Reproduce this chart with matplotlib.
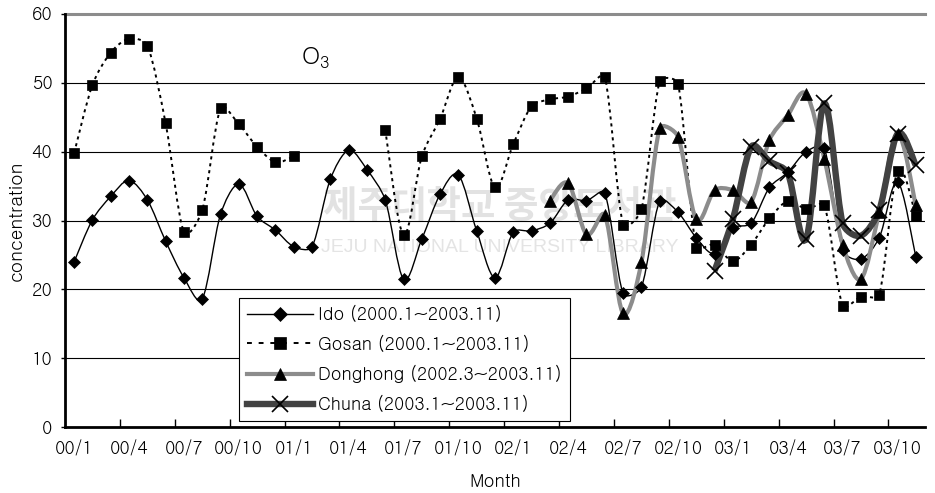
import numpy as np
import matplotlib
matplotlib.use("Agg")
import matplotlib.pyplot as plt
from matplotlib.path import Path
from matplotlib.patches import PathPatch
from matplotlib.lines import Line2D
from matplotlib import font_manager

nan = np.nan

# ---------------- data ----------------
tick_labels = ["00/1", "00/4", "00/7", "00/10", "01/1", "01/4", "01/7", "01/10",
               "02/1", "02/4", "02/7", "02/10", "03/1", "03/4", "03/7", "03/10"]

ido = [24.0, 30.1, 33.5, 35.8, 33.0, 27.0, 21.7, 18.6, 30.9, 35.3, 30.6, 28.6,
       26.2, 26.2, 36.0, 40.2, 37.4, 33.0, 21.5, 27.3, 33.8, 36.6, 28.5, 21.7,
       28.3, 28.5, 29.6, 33.0, 32.9, 34.0, 19.4, 20.3, 32.8, 31.2, 27.5, 25.2,
       28.9, 29.6, 34.8, 37.0, 40.0, 40.5, 25.7, 24.4, 27.5, 35.6, 24.7]

gosan = [39.8, 49.7, 54.4, 56.4, 55.4, 44.1, 28.3, 31.5, 46.3, 44.0, 40.7, 38.5,
         39.3, nan, nan, nan, nan, 43.2, 27.9, 39.3, 44.8, 50.8, 44.8, 34.8,
         41.1, 46.6, 47.6, 48.0, 49.2, 50.9, 29.4, 31.6, 50.2, 49.9, 26.0, 26.5,
         24.1, 26.5, 30.3, 32.8, 31.7, 32.2, 17.6, 18.9, 19.2, 37.2, 30.7]

donghong = [nan] * 26 + [32.9, 35.4, 28.0, 30.8, 16.5, 23.9, 43.4, 42.2, 30.2,
                         34.4, 34.4, 32.7, 41.7, 45.3, 48.4, 38.9, 26.5, 21.5,
                         31.2, 42.6, 32.2]

chuna = [nan] * 35 + [22.7, 30.2, 40.7, 38.6, 36.9, 27.3, 47.0, 29.6, 27.8,
                      31.5, 42.6, 38.0]

series_names = ["Ido (2000.1~2003.11)", "Gosan (2000.1~2003.11)",
                "Donghong (2002.3~2003.11)", "Chuna (2003.1~2003.11)"]

# ---------------- fonts ----------------
avail = {f.name for f in font_manager.fontManager.ttflist}
main_font = "Gulim" if "Gulim" in avail else "Liberation Sans"
FAM = [main_font, "DejaVu Sans"]
plt.rcParams['font.family'] = FAM
plt.rcParams['mathtext.fontset'] = 'custom'
plt.rcParams['mathtext.rm'] = main_font


W, H = 935, 493
fig = plt.figure(figsize=(W / 100, H / 100), dpi=100)
ax = fig.add_axes([65 / W, 1 - 427 / H, 860 / W, 413 / H])
ax.set_xlim(-0.5, 46.5)
ax.set_ylim(0, 60)


def smooth_path(ys):
    """Excel-like smoothed line: Bezier segments built in display space."""
    ys = np.asarray(ys, float)
    xs = np.arange(len(ys), dtype=float)
    ok = ~np.isnan(ys)
    to_disp = ax.transData
    to_data = ax.transData.inverted()
    verts, codes = [], []
    i, n = 0, len(ys)
    while i < n:
        if not ok[i]:
            i += 1
            continue
        j = i
        while j + 1 < n and ok[j + 1]:
            j += 1
        P = to_disp.transform(np.column_stack([xs[i:j + 1], ys[i:j + 1]]))
        m = len(P)
        verts.append(tuple(P[0]))
        codes.append(Path.MOVETO)
        for k in range(m - 1):
            a = max(k - 1, 0)
            d = min(k + 2, m - 1)
            seg = np.linalg.norm(P[k + 1] - P[k])
            ch1 = (P[k + 1] - P[a]) / 6.0
            n1 = np.linalg.norm(ch1)
            if n1 > seg / 3.0 and n1 > 0:
                ch1 = ch1 * (seg / 3.0) / n1
            ch2 = (P[d] - P[k]) / 6.0
            n2 = np.linalg.norm(ch2)
            if n2 > seg / 3.0 and n2 > 0:
                ch2 = ch2 * (seg / 3.0) / n2
            c1 = P[k] + ch1
            c2 = P[k + 1] - ch2
            verts += [tuple(c1), tuple(c2), tuple(P[k + 1])]
            codes += [Path.CURVE4] * 3
        i = j + 1
    verts = to_data.transform(np.array(verts))
    return Path(verts, codes)


# watermark (faint)
ax.text(0.505, 0.533, "제주대학교 중앙도서관", transform=ax.transAxes, ha="center",
        va="center", fontsize=27, fontweight="bold", color="#e2e2e2",
        family=["Noto Sans CJK KR", "DejaVu Sans"], zorder=0)
ax.text(0.505, 0.435, "JEJU NATIONAL UNIVERSITY LIBRARY", transform=ax.transAxes,
        ha="center", va="center", fontsize=14, color="#e4e4e4",
        family=["Liberation Sans", "DejaVu Sans"], zorder=0)

# gridlines
for v in [10, 20, 30, 40, 50]:
    ax.axhline(v, color="black", lw=0.8, zorder=1)
ax.axhline(60, color="#8c8c8c", lw=2.2, zorder=1, clip_on=False)

styles = [
    dict(color="black", lw=1.0, ls="-", marker="D", ms=6.5),
    dict(color="black", lw=1.4, ls=(0, (1.6, 2.0)), marker="s", ms=7.5),
    dict(color="#8c8c8c", lw=3.0, ls="-", marker="^", ms=8),
    dict(color="#424242", lw=4.6, ls="-", marker="x", ms=11),
]
data = [ido, gosan, donghong, chuna]
x = np.arange(len(ido))

for ys, st in zip(data, styles):
    patch = PathPatch(smooth_path(ys), facecolor="none", edgecolor=st["color"],
                      lw=st["lw"], ls=st["ls"], zorder=3, capstyle="butt")
    ax.add_patch(patch)
for ys, st in zip(data, styles):
    mew = 1.2 if st["marker"] == "x" else 0.5
    ax.plot(x, ys, ls="none", marker=st["marker"], ms=st["ms"], mfc="black",
            mec="black", mew=mew, zorder=4)

# axes styling
for s in ["top", "right"]:
    ax.spines[s].set_visible(False)
for s in ["left", "bottom"]:
    ax.spines[s].set_linewidth(2)
    ax.spines[s].set_color("black")

ax.set_yticks(range(0, 61, 10))
ax.tick_params(axis="y", direction="out", length=3, width=1, labelsize=13, pad=6)
ax.set_xticks(np.arange(0, 46, 3))
ax.set_xticklabels(tick_labels, fontsize=13)
ax.tick_params(axis="x", which="major", length=0, pad=10)
ax.set_xticks(np.arange(2.5, 46, 3), minor=True)
ax.tick_params(axis="x", which="minor", direction="in", length=6, width=1)

ax.set_xlabel("Month", fontsize=13, labelpad=12)
ax.set_ylabel("concentration", fontsize=13.5, labelpad=5)

# O3 label
ax.text(12.4, 53.6, r"O$_3$", fontsize=17, ha="left", va="center")

handles = []
for st in styles:
    ls = (0, (2.5, 3.5)) if st["ls"] != "-" else "-"
    mew = 1.2 if st["marker"] == "x" else 0.5
    handles.append(Line2D([], [], color=st["color"], lw=st["lw"], ls=ls,
                          marker=st["marker"], ms=st["ms"] + 1, mfc="black",
                          mec="black", mew=mew))
leg = fig.legend(handles, series_names, loc="upper left",
                 bbox_to_anchor=(239 / W, 1 - 298 / H), frameon=True,
                 fancybox=False, edgecolor="black", framealpha=1,
                 prop={"family": FAM, "size": 12.8}, handlelength=3.7,
                 handletextpad=0.3, labelspacing=0.7, borderpad=0.45,
                 borderaxespad=0)
leg.get_frame().set_linewidth(0.8)

fig.savefig("out.png", dpi=100)
